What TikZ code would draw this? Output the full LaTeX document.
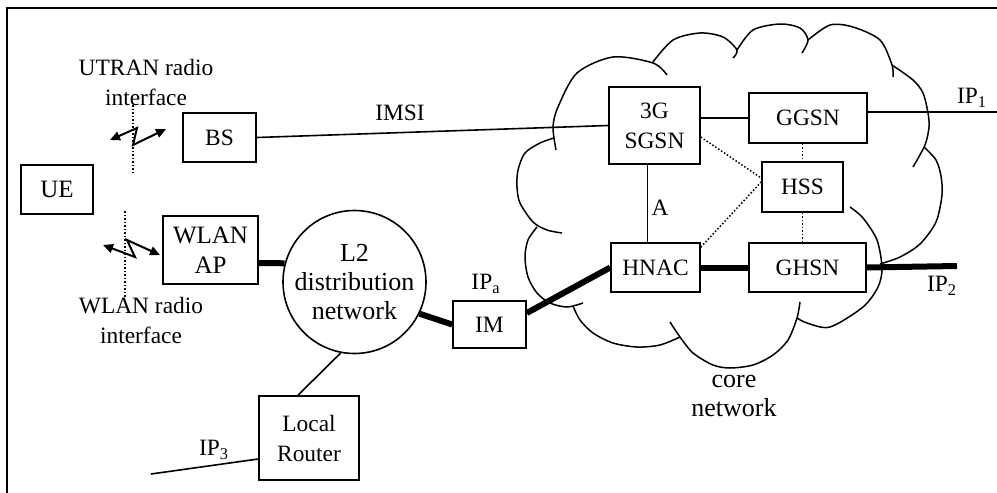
\documentclass[tikz,border=0pt]{standalone}
\usepackage{fontspec}
\setmainfont{Liberation Serif}
\usetikzlibrary{calc,arrows.meta}
\begin{document}
\begin{tikzpicture}[x=0.5pt,y=-0.5pt,
  txt/.style={font=\fontsize{11.7}{15}\selectfont, align=center, inner sep=0pt},
  midtxt/.style={font=\fontsize{12.5}{15}\selectfont, align=center, inner sep=0pt},
  bigtxt/.style={font=\fontsize{13}{14.5}\selectfont, align=center, inner sep=0pt},
  box/.style 2 args={draw, rectangle, line width=0.8pt, minimum width=#1, minimum height=#2},
  link/.style={line width=0.8pt},
  heavy/.style={line width=3pt},
  dots/.style={line width=0.75pt, dash pattern=on 0.75pt off 1pt},
  radio/.style={line width=1pt, {Triangle[length=5pt,width=4.5pt]}-{Triangle[length=5pt,width=4.5pt]}},
  airgap/.style={line width=0.75pt, dash pattern=on 0.75pt off 1pt},
  cloudline/.style={line width=0.75pt}
]
\useasboundingbox (0,0) rectangle (997,493);

% outer frame
\draw[line width=1pt] (7,493) -- (7,8) -- (997,8);

% core network cloud, lobe by lobe
\draw[cloudline] plot[smooth] coordinates {(556,150) (553,127) (558,107) (577,73) (613,57) (653,63) (667,75)};
\draw[cloudline] plot[smooth] coordinates {(653,62) (673,40) (700,33) (723,37) (737,50) (733,58)};
\draw[cloudline] plot[smooth] coordinates {(737,50) (753,30) (780,24) (800,28) (808,40) (802,53)};
\draw[cloudline] plot[smooth] coordinates {(808,40) (830,25) (853,27) (880,40) (892,65) (893,77)};
\draw[cloudline] plot[smooth] coordinates {(892,65) (913,80) (923,93) (928,113) (929,127) (925,145) (913,167)};
\draw[cloudline] plot[smooth] coordinates {(924,147) (936,160) (941,176) (942,195) (936,222) (920,244) (900,257) (880,264)};
\draw[cloudline] plot[smooth] coordinates {(797,318) (807,323) (830,327) (863,307) (878,287) (882,268) (877,240) (863,218) (850,207)};
\draw[cloudline] plot[smooth] coordinates {(800,302) (797,318) (788,340) (773,355) (753,365) (730,368) (713,365) (693,353) (680,337) (670,322)};
\draw[cloudline] plot[smooth] coordinates {(573,306) (580,320) (593,333) (613,343) (637,347) (660,345) (680,337)};
\draw[cloudline] plot[smooth] coordinates {(537,227) (528,240) (525,257) (528,277) (537,293) (550,303) (567,307) (583,303)};
\draw[cloudline] plot[smooth] coordinates {(554,138) (540,143) (525,153) (518,170) (517,187) (520,203) (533,222) (547,230) (562,233)};

% network elements
\node[box={36pt}{24.5pt}, midtxt] (ue) at (57,189.5) {UE};
\node[box={36.5pt}{24.5pt}, txt] (bs) at (219.5,137.5) {BS};
\node[box={47.5pt}{34pt}, midtxt] (ap) at (210.5,250) {WLAN\\AP};
\node[draw, circle, line width=0.8pt, minimum size=71.5pt, bigtxt] (l2) at (354.5,282) {L2\\distribution\\network};
\node[box={36.5pt}{23.5pt}, txt] (im) at (489.5,324.5) {IM};
\node[box={50pt}{42pt}, txt] (router) at (309,438) {Local\\Router};
\node[box={45.5pt}{38.5pt}, txt] (sgsn) at (654.5,125.5) {3G\\SGSN};
\node[box={59pt}{25pt}, txt] (ggsn) at (808,118) {GGSN};
\node[box={40.5pt}{25pt}, txt] (hss) at (802.5,187) {HSS};
\node[box={44.5pt}{24.5pt}, txt] (hnac) at (655.5,267.5) {HNAC};
\node[box={58.5pt}{24.5pt}, txt] (ghsn) at (807.5,267.5) {GHSN};

% labels
\node[txt] (utranlbl) at (146,82) {UTRAN radio\\interface};
\node[txt] (wlanlbl) at (141,320) {WLAN radio\\interface};
\node[txt] (imsilbl) at (400,113) {IMSI};
\node[txt] (alabel) at (660,208) {A};
\node[txt] (ip1lbl) at (972,98) {IP\textsubscript{1}};
\node[txt] (ip2lbl) at (942,286) {IP\textsubscript{2}};
\node[txt] (ip3lbl) at (214,450) {IP\textsubscript{3}};
\node[txt] (ipalbl) at (486,284) {IP\textsubscript{a}};
\node[bigtxt] (corelbl) at (734,396) {core\\network};

% free ends of the outside links
\coordinate (ip1end) at (997,112);
\coordinate (ip2end) at (957,266);
\coordinate (ip3end) at (151,474);

% radio interfaces
\coordinate (ugapt) at (133,105);
\coordinate (ugapb) at (133,175);
\draw[airgap] (ugapt) -- (ugapb);
\coordinate (u1) at (110,140);
\coordinate (u2) at (137,128);
\coordinate (u3) at (133,145);
\coordinate (u4) at (166,129);
\draw[radio] (u1) -- (u2) -- (u3) -- (u4);

\coordinate (wgapt) at (125,211);
\coordinate (wgapb) at (125,297);
\draw[airgap] (wgapt) -- (wgapb);
\coordinate (w1) at (103,245);
\coordinate (w2) at (135,257);
\coordinate (w3) at (127,240);
\coordinate (w4) at (160,255);
\draw[radio] (w1) -- (w2) -- (w3) -- (w4);

% signalling and user-plane links
\draw[link] (bs.east) -- (sgsn.west);
\draw[link] (sgsn.east |- ggsn.west) -- (ggsn.west);
\draw[link] ([yshift=3pt]ggsn.east) -- (ip1end);
\coordinate (aup) at ($(sgsn.south)+(-7,0)$);
\draw[link] (aup) -- (aup |- hnac.north);
\draw[dots] ($(sgsn.east)+(0,11.5)$) -- ($(hss.west)+(0,-9)$);
\draw[dots] ($(hnac.north east)+(0,5)$) -- ($(hss.west)+(0,-5)$);
\draw[dots] (hss.north |- ggsn.south) -- (hss.north);
\draw[dots] (hss.south) -- (hss.south |- ghsn.north);
\draw[heavy] (hnac.east) -- (hnac.east -| ghsn.west);
\draw[heavy] (ghsn.east) -- (ip2end);
\draw[heavy] ($(im.east)+(0,-11.5)$) -- (hnac.west);
\draw[heavy] (l2.-26) -- (im.west);
\draw[heavy] ($(ap.east)+(0,13)$) -- (l2.165);
\draw[link] (l2.259) -- ($(router.north)+(-11,0)$);
\draw[link] ($(router.west)+(0,21)$) -- (ip3end);
\end{tikzpicture}
\end{document}
